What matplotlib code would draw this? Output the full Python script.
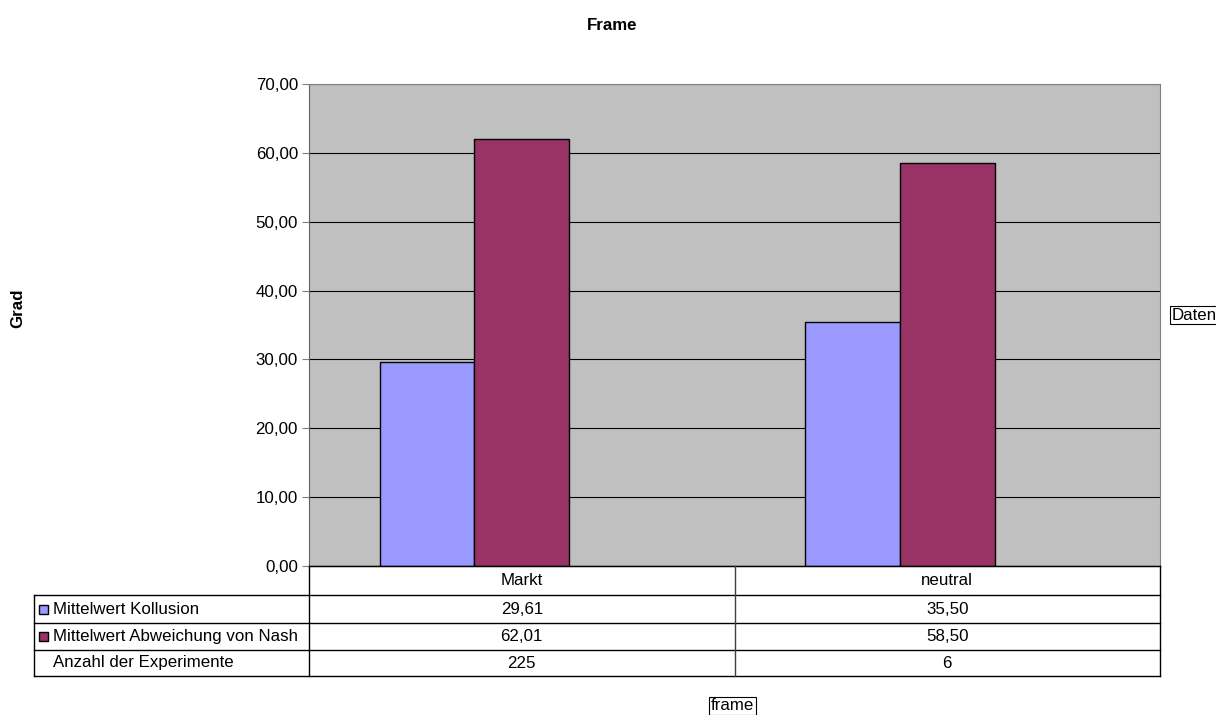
import matplotlib
matplotlib.use('Agg')
from matplotlib import pyplot as plt
import numpy as np

plt.rcParams['font.family'] = ['Liberation Sans', 'DejaVu Sans']
plt.rcParams['font.size'] = 12.2

# data
categories = ['Markt', 'neutral']
kollusion = [29.61, 35.50]
nash = [62.01, 58.50]
anzahl = [225, 6]
series_names = ['Mittelwert Kollusion', 'Mittelwert Abweichung von Nash', 'Anzahl der Experimente']
colors = ['#9999FF', '#993366']

W, H = 1216, 715
fig = plt.figure(figsize=(W / 100, H / 100), dpi=100)

# plot area in pixels
px_l, px_r, px_t, px_b = 309, 1160, 84, 566
ax = fig.add_axes([px_l / W, (H - px_b) / H, (px_r - px_l) / W, (px_b - px_t) / H])
ax.set_facecolor('#C0C0C0')

x = np.arange(len(categories))
bw = 1 / 4.5  # three slots (third series not drawn) + 150% gap
ax.bar(x - 1.5 * bw, kollusion, bw, align='edge', color=colors[0], edgecolor='black', linewidth=1, zorder=3)
ax.bar(x - 0.5 * bw, nash, bw, align='edge', color=colors[1], edgecolor='black', linewidth=1, zorder=3)

ax.set_xlim(-0.5, len(categories) - 0.5)
ax.set_ylim(0, 70)
ax.set_yticks(np.arange(0, 71, 10))
ax.set_yticklabels(['{:.2f}'.format(v).replace('.', ',') for v in np.arange(0, 71, 10)])
ax.yaxis.grid(True, color='black', linewidth=0.8, zorder=1)
ax.set_axisbelow(True)
ax.set_xticks([])
ax.tick_params(axis='y', length=5, color='#808080', pad=3)
for s in ['top', 'right']:
    ax.spines[s].set_color('#808080')
ax.spines['left'].set_color('#606060')
ax.spines['bottom'].set_color('black')

fig.text(612 / W, 1 - 25 / H, 'Frame', ha='center', va='center', fontweight='bold')
fig.text(18 / W, 1 - 308 / H, 'Grad', ha='center', va='center', rotation=90, fontweight='bold')
fig.text(1172 / W, 1 - 315 / H, 'Daten', ha='left', va='center',
         bbox=dict(boxstyle='square,pad=0.1', facecolor='white', edgecolor='black', linewidth=0.8))
fig.text(711 / W, 1 - 706 / H, 'frame', ha='left', va='center',
         bbox=dict(boxstyle='square,pad=0.1', facecolor='white', edgecolor='black', linewidth=0.8))

# data table below the plot
tl, tr, tt, tb = 34, 1160, 566, 676
tax = fig.add_axes([tl / W, (H - tb) / H, (tr - tl) / W, (tb - tt) / H])
tax.set_xlim(tl, tr)
tax.set_ylim(tb, tt)
tax.axis('off')
rows = [566, 595, 623, 650, 676]
col_w = (px_r - px_l) / len(categories)
lw = 1.0
# horizontal lines
tax.plot([px_l, px_r], [rows[0], rows[0]], color='black', lw=lw, clip_on=False)
for r in rows[1:]:
    tax.plot([tl, px_r], [r, r], color='black', lw=lw, clip_on=False)
# vertical lines
tax.plot([tl, tl], [rows[1], rows[-1]], color='black', lw=lw, clip_on=False)
for i in range(len(categories) + 1):
    xx = px_l + i * col_w
    tax.plot([xx, xx], [rows[0], rows[-1]], color='#404040' if 0 < i < len(categories) else 'black',
             lw=lw, clip_on=False)

for i, c in enumerate(categories):
    cx = px_l + (i + 0.5) * col_w
    tax.text(cx, (rows[0] + rows[1]) / 2, c, ha='center', va='center')
    tax.text(cx, (rows[1] + rows[2]) / 2, '{:.2f}'.format(kollusion[i]).replace('.', ','), ha='center', va='center')
    tax.text(cx, (rows[2] + rows[3]) / 2, '{:.2f}'.format(nash[i]).replace('.', ','), ha='center', va='center')
    tax.text(cx, (rows[3] + rows[4]) / 2, str(anzahl[i]), ha='center', va='center')

for j, name in enumerate(series_names):
    yc = (rows[j + 1] + rows[j + 2]) / 2
    if j < 2:
        tax.add_patch(plt.Rectangle((39, yc - 4.5), 9, 9, facecolor=colors[j], edgecolor='black', lw=1,
                                    clip_on=False))
    tax.text(53, yc, name, ha='left', va='center')

fig.savefig('out.png', dpi=100)
